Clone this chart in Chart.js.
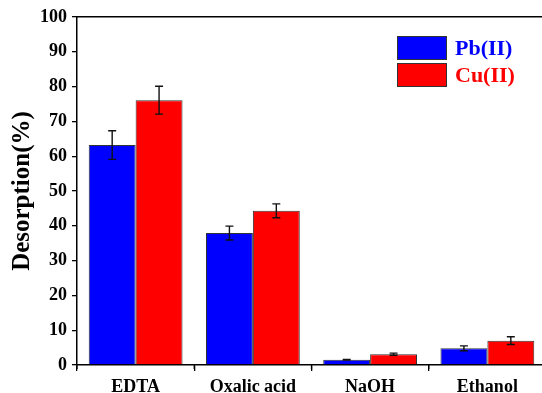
<!DOCTYPE html>
<html>
<head>
<meta charset="utf-8">
<script src="https://cdn.jsdelivr.net/npm/chart.js@4/dist/chart.umd.min.js"></script>
<style>
html,body{margin:0;padding:0;background:#fff;overflow:hidden;}
#wrap{width:548px;height:393px;}
</style>
</head>
<body>
<div id="wrap"><canvas id="c" width="548" height="393"></canvas></div>
<script>
const categories = ["EDTA", "Oxalic acid", "NaOH", "Ethanol"];
const seriesNames = ["Pb(II)", "Cu(II)"];
const pbValues = [63.2, 37.9, 1.5, 4.8];
const pbErrors = [4.1, 2.0, 0.1, 0.7];
const cuValues = [76.1, 44.3, 3.1, 7.0];
const cuErrors = [4.0, 2.0, 0.3, 1.1];
const yTicks = [0, 10, 20, 30, 40, 50, 60, 70, 80, 90, 100];
const yLabel = "Desorption(%)";

const FONT = "'Liberation Serif', 'Times New Roman', serif";

const errorBarPlugin = {
  id: 'errorBars',
  afterDatasetsDraw(chart) {
    const ctx = chart.ctx;
    const y = chart.scales.y;
    ctx.save();
    ctx.strokeStyle = '#111';
    ctx.lineWidth = 1.4;
    chart.data.datasets.forEach((ds, di) => {
      const meta = chart.getDatasetMeta(di);
      meta.data.forEach((bar, i) => {
        const v = ds.data[i], e = ds.errors[i];
        const x = bar.x;
        const yt = y.getPixelForValue(v + e);
        const yb = y.getPixelForValue(v - e);
        ctx.beginPath();
        ctx.moveTo(x, yt); ctx.lineTo(x, yb);
        ctx.moveTo(x - 4, yt); ctx.lineTo(x + 4, yt);
        ctx.moveTo(x - 4, yb); ctx.lineTo(x + 4, yb);
        ctx.stroke();
      });
    });
    ctx.restore();
  }
};

const extrasPlugin = {
  id: 'extras',
  afterDraw(chart) {
    const ctx = chart.ctx;
    const xs = chart.scales.x;
    const area = chart.chartArea;
    const step = xs.getPixelForValue(1) - xs.getPixelForValue(0);
    ctx.save();
    ctx.strokeStyle = '#000';
    ctx.lineWidth = 1.3;
    for (let i = 0; i <= categories.length; i++) {
      const px = xs.getPixelForValue(0) - step / 2 + i * step;
      ctx.beginPath();
      ctx.moveTo(px, area.bottom); ctx.lineTo(px, area.bottom + 4);
      ctx.stroke();
    }
    const lx = 397, ly = 36, bw = 50, bh = 24, gap = 3;
    chart.data.datasets.forEach((ds, i) => {
      const top = ly + i * (bh + gap);
      ctx.fillStyle = ds.backgroundColor;
      ctx.fillRect(lx, top, bw, bh);
      ctx.strokeStyle = '#333';
      ctx.lineWidth = 1;
      ctx.strokeRect(lx + 0.5, top + 0.5, bw - 1, bh - 1);
      ctx.fillStyle = ds.backgroundColor;
      ctx.font = "bold 22px " + FONT;
      ctx.textBaseline = 'middle';
      ctx.textAlign = 'left';
      ctx.fillText(ds.label, lx + bw + 8, top + bh / 2 + 1);
    });
    ctx.restore();
  }
};

new Chart(document.getElementById('c'), {
  type: 'bar',
  data: {
    labels: categories,
    datasets: [
      { label: seriesNames[0], data: pbValues, errors: pbErrors, backgroundColor: '#0000FF', borderColor: '#333', borderWidth: 1 },
      { label: seriesNames[1], data: cuValues, errors: cuErrors, backgroundColor: '#FF0000', borderColor: '#333', borderWidth: 1 }
    ]
  },
  options: {
    responsive: false,
    animation: false,
    devicePixelRatio: 1,
    layout: { padding: { top: 17, right: 2, left: 0, bottom: 0 } },
    datasets: { bar: { categoryPercentage: 0.8, barPercentage: 1.0 } },
    plugins: { legend: { display: false }, tooltip: { enabled: false } },
    scales: {
      x: {
        grid: { display: true, drawOnChartArea: false, tickLength: 6, color: '#000', lineWidth: 1.3 },
        border: { display: true, color: '#000', width: 1.5 },
        ticks: { font: { family: FONT, size: 18, weight: 'bold' }, color: '#000', padding: 6, maxRotation: 0 },
        afterFit(s) { s.height = 28; }
      },
      x2: {
        position: 'top',
        type: 'category',
        labels: categories,
        grid: { display: false },
        border: { display: true, color: '#000', width: 1.5 },
        ticks: { display: false },
        afterFit(s) { s.height = 0; }
      },
      y: {
        min: 0, max: 100,
        afterBuildTicks(s) {
          const t = [];
          for (let v = 0; v <= 100; v += 5) t.push({ value: v });
          s.ticks = t;
        },
        grid: { display: true, drawOnChartArea: false, tickLength: 5, color: '#000', lineWidth: 1.3 },
        border: { display: true, color: '#000', width: 1.5 },
        ticks: {
          font: { family: FONT, size: 18, weight: 'bold' }, color: '#000', padding: 5,
          callback: (v) => (yTicks.includes(v) ? String(v) : '')
        },
        title: { display: true, text: yLabel, font: { family: FONT, size: 25, weight: 'bold' }, color: '#000', padding: { top: 8, bottom: 0 } },
        afterFit(s) { s.width = 77; }
      }
    }
  },
  plugins: [errorBarPlugin, extrasPlugin]
});
</script>
</body>
</html>
